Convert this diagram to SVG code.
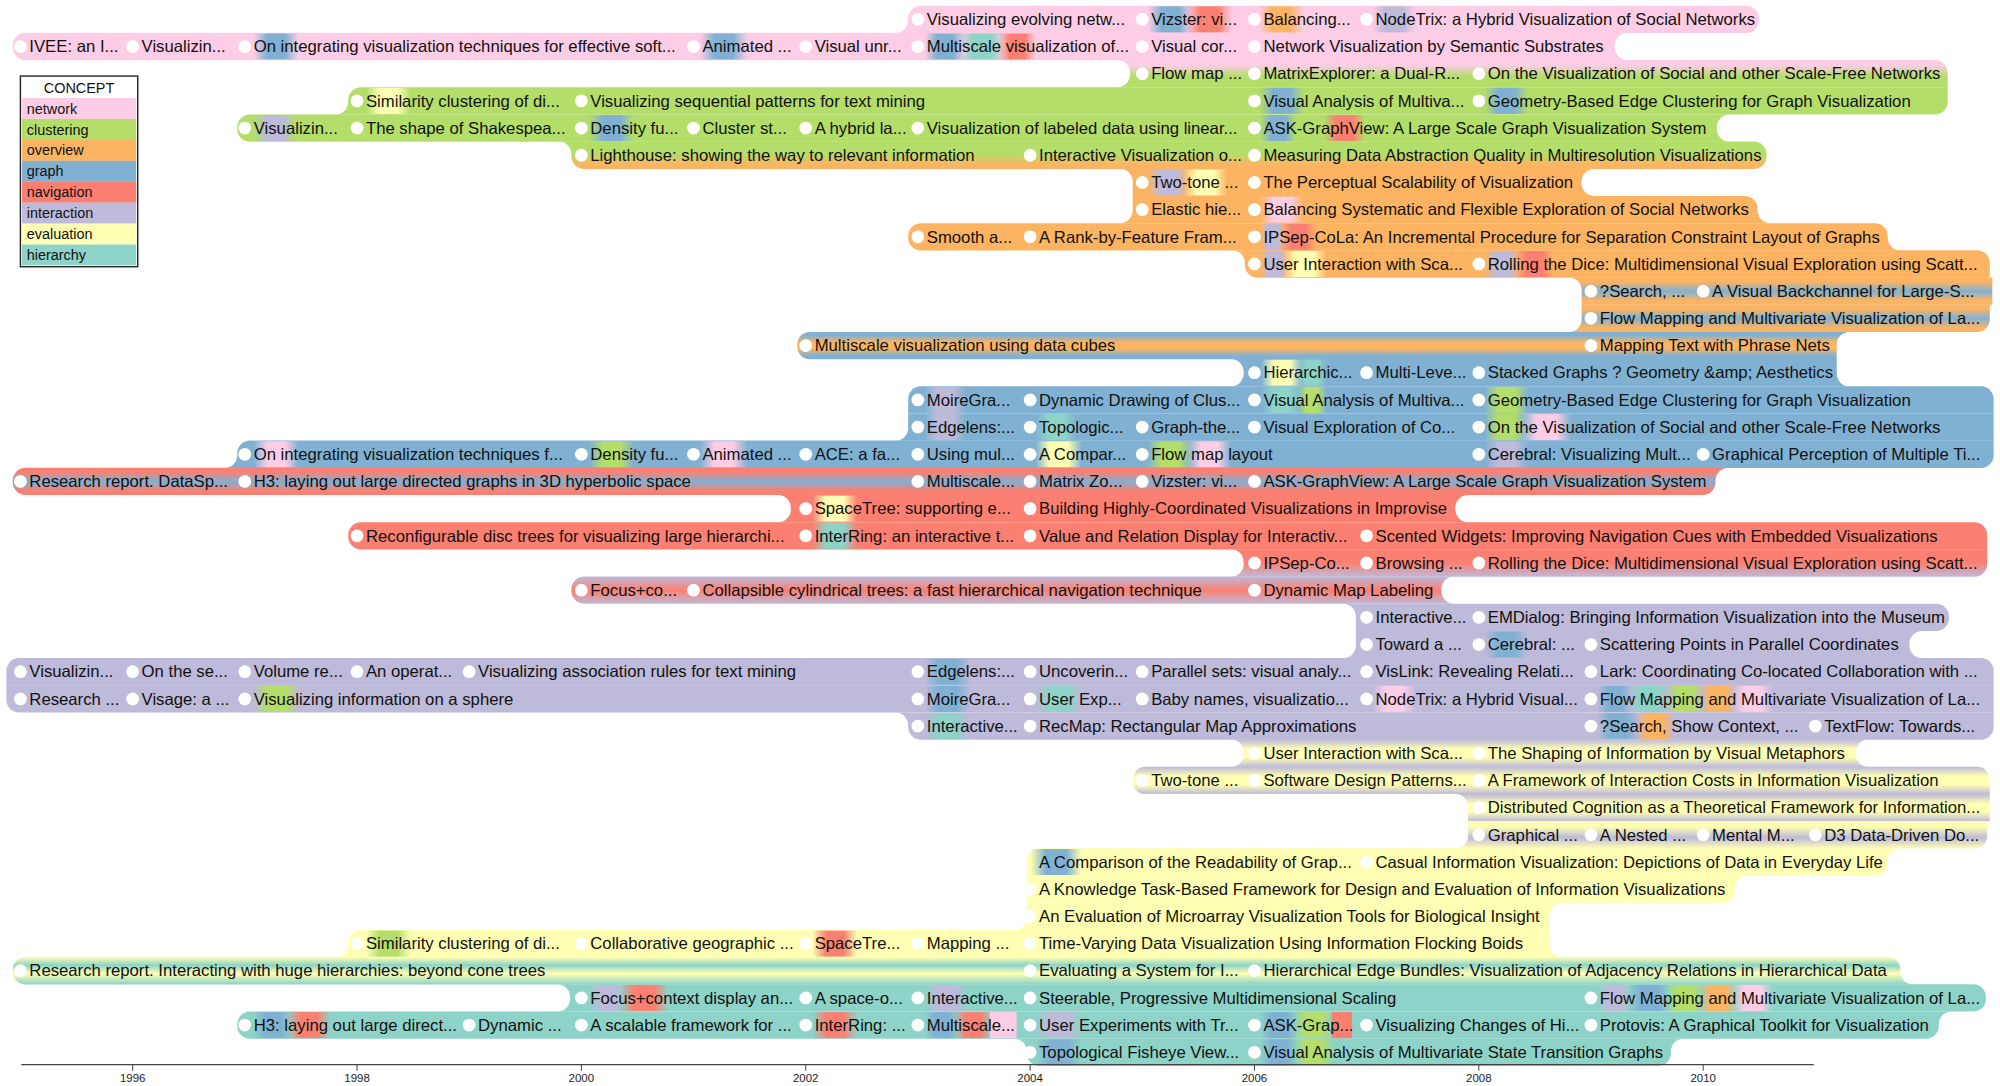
<svg xmlns="http://www.w3.org/2000/svg" width="2000" height="1086" viewBox="0 0 2000 1086">
<style>
.t{font-family:"Liberation Sans",Arial,Helvetica,sans-serif;font-size:13.1px;fill:#111}
.b{fill:#fff}
.lg{font-family:"Liberation Sans",Arial,Helvetica,sans-serif;font-size:11.3px;fill:#111}
.ax{font-family:"Liberation Sans",Arial,Helvetica,sans-serif;font-size:9px;fill:#222;text-anchor:middle}
.pk{fill:#fccde5}.gn{fill:#b3de69}.or{fill:#fdb462}.bl{fill:#80b1d3}.rd{fill:#fb8072}.pu{fill:#bebada}.ye{fill:#ffffb3}.te{fill:#8dd3c7}
</style>
<defs>
<linearGradient id="g2" x1="0" y1="0" x2="0" y2="1"><stop offset="0" stop-color="#fccde5"/><stop offset="0.2" stop-color="#fccde5"/><stop offset="0.6" stop-color="#b3de69"/><stop offset="1" stop-color="#b3de69"/></linearGradient>
<linearGradient id="g5" x1="0" y1="0" x2="0" y2="1"><stop offset="0" stop-color="#b3de69"/><stop offset="0.45" stop-color="#b3de69"/><stop offset="0.85" stop-color="#fdb462"/><stop offset="1" stop-color="#fdb462"/></linearGradient>
<linearGradient id="gobo" x1="0" y1="0" x2="0" y2="1"><stop offset="0" stop-color="#fdb462"/><stop offset="0.15" stop-color="#fdb462"/><stop offset="0.5" stop-color="#80b1d3"/><stop offset="0.85" stop-color="#fdb462"/><stop offset="1" stop-color="#fdb462"/></linearGradient>
<linearGradient id="gbob" x1="0" y1="0" x2="0" y2="1"><stop offset="0" stop-color="#80b1d3"/><stop offset="0.12" stop-color="#80b1d3"/><stop offset="0.4" stop-color="#fdb462"/><stop offset="0.6" stop-color="#fdb462"/><stop offset="0.88" stop-color="#80b1d3"/><stop offset="1" stop-color="#80b1d3"/></linearGradient>
<linearGradient id="grbr" x1="0" y1="0" x2="0" y2="1"><stop offset="0" stop-color="#fb8072"/><stop offset="0.15" stop-color="#fb8072"/><stop offset="0.5" stop-color="#80b1d3"/><stop offset="0.85" stop-color="#fb8072"/><stop offset="1" stop-color="#fb8072"/></linearGradient>
<linearGradient id="grp" x1="0" y1="0" x2="0" y2="1"><stop offset="0" stop-color="#fb8072"/><stop offset="0.5" stop-color="#fb8072"/><stop offset="1" stop-color="#bebada"/></linearGradient>
<linearGradient id="gprp" x1="0" y1="0" x2="0" y2="1"><stop offset="0" stop-color="#bebada"/><stop offset="0.5" stop-color="#fb8072"/><stop offset="1" stop-color="#bebada"/></linearGradient>
<linearGradient id="gpyp" x1="0" y1="0" x2="0" y2="1"><stop offset="0" stop-color="#bebada"/><stop offset="0.35" stop-color="#ffffb3"/><stop offset="0.65" stop-color="#ffffb3"/><stop offset="1" stop-color="#bebada"/></linearGradient>
<linearGradient id="gypy" x1="0" y1="0" x2="0" y2="1"><stop offset="0" stop-color="#ffffb3"/><stop offset="0.2" stop-color="#ffffb3"/><stop offset="0.6" stop-color="#bebada"/><stop offset="1" stop-color="#ffffb3"/></linearGradient>
<linearGradient id="gyt" x1="0" y1="0" x2="0" y2="1"><stop offset="0" stop-color="#ffffb3"/><stop offset="0.3" stop-color="#8dd3c7"/><stop offset="0.6" stop-color="#ffffb3"/><stop offset="1" stop-color="#8dd3c7"/></linearGradient>
<linearGradient id="hb"><stop offset="0" stop-color="#80b1d3" stop-opacity="0"/><stop offset="0.3" stop-color="#80b1d3"/><stop offset="0.7" stop-color="#80b1d3"/><stop offset="1" stop-color="#80b1d3" stop-opacity="0"/></linearGradient>
<linearGradient id="hr"><stop offset="0" stop-color="#fb8072" stop-opacity="0"/><stop offset="0.3" stop-color="#fb8072"/><stop offset="0.7" stop-color="#fb8072"/><stop offset="1" stop-color="#fb8072" stop-opacity="0"/></linearGradient>
<linearGradient id="hg"><stop offset="0" stop-color="#b3de69" stop-opacity="0"/><stop offset="0.3" stop-color="#b3de69"/><stop offset="0.7" stop-color="#b3de69"/><stop offset="1" stop-color="#b3de69" stop-opacity="0"/></linearGradient>
<linearGradient id="ho"><stop offset="0" stop-color="#fdb462" stop-opacity="0"/><stop offset="0.3" stop-color="#fdb462"/><stop offset="0.7" stop-color="#fdb462"/><stop offset="1" stop-color="#fdb462" stop-opacity="0"/></linearGradient>
<linearGradient id="hp"><stop offset="0" stop-color="#bebada" stop-opacity="0"/><stop offset="0.3" stop-color="#bebada"/><stop offset="0.7" stop-color="#bebada"/><stop offset="1" stop-color="#bebada" stop-opacity="0"/></linearGradient>
<linearGradient id="hk"><stop offset="0" stop-color="#fccde5" stop-opacity="0"/><stop offset="0.3" stop-color="#fccde5"/><stop offset="0.7" stop-color="#fccde5"/><stop offset="1" stop-color="#fccde5" stop-opacity="0"/></linearGradient>
<linearGradient id="hy"><stop offset="0" stop-color="#ffffb3" stop-opacity="0"/><stop offset="0.3" stop-color="#ffffb3"/><stop offset="0.7" stop-color="#ffffb3"/><stop offset="1" stop-color="#ffffb3" stop-opacity="0"/></linearGradient>
<linearGradient id="ht"><stop offset="0" stop-color="#8dd3c7" stop-opacity="0"/><stop offset="0.3" stop-color="#8dd3c7"/><stop offset="0.7" stop-color="#8dd3c7"/><stop offset="1" stop-color="#8dd3c7" stop-opacity="0"/></linearGradient>
</defs>
<rect width="2000" height="1086" fill="#fff"/>
<g transform="scale(1.27551,1.2762)">
<g id="flows">
<path class="pk" transform="translate(0,4.45)" d="M722,0 H1369 A10 10 0 0 1 1379,10 V11.4 A10 10 0 0 1 1369,21.4 H702 A10 10 0 0 0 712,11.4 V10 A10 10 0 0 1 722,0 Z"/>
<path class="pk" transform="translate(0,25.75)" d="M20,0 H1276 A10 10 0 0 0 1266,10 V11.4 A10 10 0 0 0 1276,21.4 H20 A10 10 0 0 1 10,11.4 V10 A10 10 0 0 1 20,0 Z"/>
<path fill="url(#g2)" transform="translate(0,47.05)" d="M876,0 H1517 A10 10 0 0 1 1527,10 V21.4 H876 A10 10 0 0 0 886,11.4 V10 A10 10 0 0 0 876,0 Z"/>
<path class="gn" transform="translate(0,68.35)" d="M283,0 H1527 V11.4 A10 10 0 0 1 1517,21.4 H263 A10 10 0 0 0 273,11.4 V10 A10 10 0 0 1 283,0 Z"/>
<path class="gn" transform="translate(0,89.65)" d="M196,0 H1356 A10 10 0 0 0 1346,10 V11.4 A10 10 0 0 0 1356,21.4 H196 A10 10 0 0 1 186,11.4 V10 A10 10 0 0 1 196,0 Z"/>
<path fill="url(#g5)" transform="translate(0,110.95)" d="M438,0 H1375 A10 10 0 0 1 1385,10 V11.4 A10 10 0 0 1 1375,21.4 H458 A10 10 0 0 1 448,11.4 V10 A10 10 0 0 0 438,0 Z"/>
<path class="or" transform="translate(0,132.25)" d="M878,0 H1250 A10 10 0 0 0 1240,10 V11.4 A10 10 0 0 0 1250,21.4 H888 V10 A10 10 0 0 0 878,0 Z"/>
<path class="or" transform="translate(0,153.55)" d="M888,0 H1368 A10 10 0 0 1 1378,10 V11.4 A10 10 0 0 0 1388,21.4 H878 A10 10 0 0 0 888,11.4 Z"/>
<path class="or" transform="translate(0,174.85)" d="M722,0 H1470 A10 10 0 0 1 1480,10 V11.4 A10 10 0 0 0 1490,21.4 H722 A10 10 0 0 1 712,11.4 V10 A10 10 0 0 1 722,0 Z"/>
<path class="or" transform="translate(0,196.15)" d="M966,0 H1550 A10 10 0 0 1 1560,10 V21.4 H986 A10 10 0 0 1 976,11.4 V10 A10 10 0 0 0 966,0 Z"/>
<path fill="url(#gobo)" transform="translate(0,217.45)" d="M1230,0 H1562 V21.4 H1240 V10 A10 10 0 0 0 1230,0 Z"/>
<path fill="url(#gobo)" transform="translate(0,238.75)" d="M1240,0 H1560 V11.4 A10 10 0 0 1 1550,21.4 H1230 A10 10 0 0 0 1240,11.4 Z"/>
<path fill="url(#gbob)" transform="translate(0,260.05)" d="M635,0 H1450 A10 10 0 0 0 1440,10 V21.4 H635 A10 10 0 0 1 625,11.4 V10 A10 10 0 0 1 635,0 Z"/>
<path class="bl" transform="translate(0,281.35)" d="M965,0 H1440 V11.4 A10 10 0 0 0 1450,21.4 H965 A10 10 0 0 0 975,11.4 V10 A10 10 0 0 0 965,0 Z"/>
<path class="bl" transform="translate(0,302.65)" d="M722,0 H1553 A10 10 0 0 1 1563,10 V21.4 H712 V10 A10 10 0 0 1 722,0 Z"/>
<path class="bl" transform="translate(0,323.95)" d="M712,0 H1563 V21.4 H702 A10 10 0 0 0 712,11.4 Z"/>
<path class="bl" transform="translate(0,345.25)" d="M196,0 H1563 V11.4 A10 10 0 0 1 1553,21.4 H176 A10 10 0 0 0 186,11.4 V10 A10 10 0 0 1 196,0 Z"/>
<path fill="url(#grbr)" transform="translate(0,366.55)" d="M20,0 H1355 A10 10 0 0 0 1345,10 V11.4 A10 10 0 0 1 1335,21.4 H20 A10 10 0 0 1 10,11.4 V10 A10 10 0 0 1 20,0 Z"/>
<path class="rd" transform="translate(0,387.85)" d="M610,0 H1151 A10 10 0 0 0 1141,10 V11.4 A10 10 0 0 0 1151,21.4 H610 A10 10 0 0 0 620,11.4 V10 A10 10 0 0 0 610,0 Z"/>
<path class="rd" transform="translate(0,409.15)" d="M283,0 H1548 A10 10 0 0 1 1558,10 V21.4 H283 A10 10 0 0 1 273,11.4 V10 A10 10 0 0 1 283,0 Z"/>
<path fill="url(#grp)" transform="translate(0,430.45)" d="M965,0 H1558 V11.4 A10 10 0 0 1 1548,21.4 H965 A10 10 0 0 0 975,11.4 V10 A10 10 0 0 0 965,0 Z"/>
<path fill="url(#gprp)" transform="translate(0,451.75)" d="M458,0 H1140 A10 10 0 0 0 1130,10 V11.4 A10 10 0 0 0 1140,21.4 H458 A10 10 0 0 1 448,11.4 V10 A10 10 0 0 1 458,0 Z"/>
<path class="pu" transform="translate(0,473.05)" d="M1053,0 H1518 A10 10 0 0 1 1528,10 V11.4 A10 10 0 0 1 1518,21.4 H1063 V10 A10 10 0 0 0 1053,0 Z"/>
<path class="pu" transform="translate(0,494.35)" d="M1063,0 H1507 A10 10 0 0 0 1497,10 V11.4 A10 10 0 0 0 1507,21.4 H1053 A10 10 0 0 0 1063,11.4 Z"/>
<path class="pu" transform="translate(0,515.65)" d="M15,0 H1553 A10 10 0 0 1 1563,10 V21.4 H5 V10 A10 10 0 0 1 15,0 Z"/>
<path class="pu" transform="translate(0,536.95)" d="M5,0 H1563 V21.4 H15 A10 10 0 0 1 5,11.4 Z"/>
<path class="pu" transform="translate(0,558.25)" d="M702,0 H1563 V11.4 A10 10 0 0 1 1553,21.4 H722 A10 10 0 0 1 712,11.4 V10 A10 10 0 0 0 702,0 Z"/>
<path fill="url(#gpyp)" transform="translate(0,579.55)" d="M965,0 H1465 A10 10 0 0 0 1455,10 V11.4 A10 10 0 0 0 1465,21.4 H965 A10 10 0 0 0 975,11.4 V10 A10 10 0 0 0 965,0 Z"/>
<path fill="url(#gpyp)" transform="translate(0,600.85)" d="M898,0 H1550 A10 10 0 0 1 1560,10 V21.4 H898 A10 10 0 0 1 888,11.4 V10 A10 10 0 0 1 898,0 Z"/>
<path fill="url(#gpyp)" transform="translate(0,622.15)" d="M1141,0 H1560 V21.4 H1151 V10 A10 10 0 0 0 1141,0 Z"/>
<path fill="url(#gypy)" transform="translate(0,643.45)" d="M1151,0 H1558 V11.4 A10 10 0 0 1 1548,21.4 H1141 A10 10 0 0 0 1151,11.4 Z"/>
<path class="ye" transform="translate(0,664.75)" d="M815,0 H1490 A10 10 0 0 0 1480,10 V11.4 A10 10 0 0 1 1470,21.4 H805 V10 A10 10 0 0 1 815,0 Z"/>
<path class="ye" transform="translate(0,686.05)" d="M805,0 H1370 A10 10 0 0 0 1360,10 V11.4 A10 10 0 0 1 1350,21.4 H805 Z"/>
<path class="ye" transform="translate(0,707.35)" d="M805,0 H1225 A10 10 0 0 0 1215,10 V21.4 H795 A10 10 0 0 0 805,11.4 Z"/>
<path class="ye" transform="translate(0,728.65)" d="M283,0 H1215 V11.4 A10 10 0 0 0 1225,21.4 H263 A10 10 0 0 0 273,11.4 V10 A10 10 0 0 1 283,0 Z"/>
<path fill="url(#gyt)" transform="translate(0,749.95)" d="M20,0 H1480 A10 10 0 0 1 1490,10 V11.4 A10 10 0 0 0 1500,21.4 H20 A10 10 0 0 1 10,11.4 V10 A10 10 0 0 1 20,0 Z"/>
<path class="te" transform="translate(0,771.25)" d="M437,0 H1547 A10 10 0 0 1 1557,10 V11.4 A10 10 0 0 1 1547,21.4 H437 A10 10 0 0 0 447,11.4 V10 A10 10 0 0 0 437,0 Z"/>
<path class="te" transform="translate(0,792.55)" d="M196,0 H1530 A10 10 0 0 0 1520,10 V11.4 A10 10 0 0 1 1510,21.4 H196 A10 10 0 0 1 186,11.4 V10 A10 10 0 0 1 196,0 Z"/>
<path class="te" transform="translate(0,813.85)" d="M795,0 H1320 A10 10 0 0 0 1310,10 V11.4 A10 10 0 0 1 1300,21.4 H815 A10 10 0 0 1 805,11.4 V10 A10 10 0 0 0 795,0 Z"/>
</g>

<g id="row-00" transform="translate(0,4.45)">
<rect fill="url(#hb)" x="900" y="0.5" width="35" height="20.4"/><rect fill="url(#hr)" x="930" y="0.5" width="36" height="20.4"/><rect fill="url(#ho)" x="987" y="0.5" width="35" height="20.4"/><rect fill="url(#hp)" x="1076" y="0.5" width="34" height="20.4"/>
<circle class="b" cx="719.6" cy="10.7" r="5"/><text class="t" x="726.6" y="15.2">Visualizing evolving netw...</text>
<circle class="b" cx="895.5" cy="10.7" r="5"/><text class="t" x="902.5" y="15.2">Vizster: vi...</text>
<circle class="b" cx="983.5" cy="10.7" r="5"/><text class="t" x="990.5" y="15.2">Balancing...</text>
<circle class="b" cx="1071.4" cy="10.7" r="5"/><text class="t" x="1078.4" y="15.2">NodeTrix: a Hybrid Visualization of Social Networks</text>
</g>
<g id="row-01" transform="translate(0,25.75)">
<rect fill="url(#hb)" x="199" y="0.5" width="35" height="20.4"/><rect fill="url(#hb)" x="549" y="0.5" width="37" height="20.4"/><rect fill="url(#hb)" x="725" y="0.5" width="32" height="20.4"/><rect fill="url(#ht)" x="752" y="0.5" width="36" height="20.4"/><rect fill="url(#hr)" x="783" y="0.5" width="29" height="20.4"/>
<circle class="b" cx="16" cy="10.7" r="5"/><text class="t" x="23" y="15.2">IVEE: an I...</text>
<circle class="b" cx="104" cy="10.7" r="5"/><text class="t" x="111" y="15.2">Visualizin...</text>
<circle class="b" cx="191.9" cy="10.7" r="5"/><text class="t" x="198.9" y="15.2">On integrating visualization techniques for effective soft...</text>
<circle class="b" cx="543.7" cy="10.7" r="5"/><text class="t" x="550.7" y="15.2">Animated ...</text>
<circle class="b" cx="631.7" cy="10.7" r="5"/><text class="t" x="638.7" y="15.2">Visual unr...</text>
<circle class="b" cx="719.6" cy="10.7" r="5"/><text class="t" x="726.6" y="15.2">Multiscale visualization of...</text>
<circle class="b" cx="895.5" cy="10.7" r="5"/><text class="t" x="902.5" y="15.2">Visual cor...</text>
<circle class="b" cx="983.5" cy="10.7" r="5"/><text class="t" x="990.5" y="15.2">Network Visualization by Semantic Substrates</text>
</g>
<g id="row-02" transform="translate(0,47.05)">
<circle class="b" cx="895.5" cy="10.7" r="5"/><text class="t" x="902.5" y="15.2">Flow map ...</text>
<circle class="b" cx="983.5" cy="10.7" r="5"/><text class="t" x="990.5" y="15.2">MatrixExplorer: a Dual-R...</text>
<circle class="b" cx="1159.4" cy="10.7" r="5"/><text class="t" x="1166.4" y="15.2">On the Visualization of Social and other Scale-Free Networks</text>
</g>
<g id="row-03" transform="translate(0,68.35)">
<rect fill="url(#hy)" x="287" y="0.5" width="35" height="20.4"/><rect fill="url(#hb)" x="988" y="0.5" width="34" height="20.4"/><rect fill="url(#hb)" x="1164" y="0.5" width="34" height="20.4"/>
<circle class="b" cx="279.9" cy="10.7" r="5"/><text class="t" x="286.9" y="15.2">Similarity clustering of di...</text>
<circle class="b" cx="455.8" cy="10.7" r="5"/><text class="t" x="462.8" y="15.2">Visualizing sequential patterns for text mining</text>
<circle class="b" cx="983.5" cy="10.7" r="5"/><text class="t" x="990.5" y="15.2">Visual Analysis of Multiva...</text>
<circle class="b" cx="1159.4" cy="10.7" r="5"/><text class="t" x="1166.4" y="15.2">Geometry-Based Edge Clustering for Graph Visualization</text>
</g>
<g id="row-04" transform="translate(0,89.65)">
<rect fill="url(#hp)" x="199" y="0.5" width="33" height="20.4"/><rect fill="url(#hb)" x="462" y="0.5" width="35" height="20.4"/><rect fill="url(#hb)" x="988" y="0.5" width="28" height="20.4"/><rect fill="url(#hg)" x="1012" y="0.5" width="30" height="20.4"/><rect fill="url(#hr)" x="1038" y="0.5" width="32" height="20.4"/>
<circle class="b" cx="191.9" cy="10.7" r="5"/><text class="t" x="198.9" y="15.2">Visualizin...</text>
<circle class="b" cx="279.9" cy="10.7" r="5"/><text class="t" x="286.9" y="15.2">The shape of Shakespea...</text>
<circle class="b" cx="455.8" cy="10.7" r="5"/><text class="t" x="462.8" y="15.2">Density fu...</text>
<circle class="b" cx="543.7" cy="10.7" r="5"/><text class="t" x="550.7" y="15.2">Cluster st...</text>
<circle class="b" cx="631.7" cy="10.7" r="5"/><text class="t" x="638.7" y="15.2">A hybrid la...</text>
<circle class="b" cx="719.6" cy="10.7" r="5"/><text class="t" x="726.6" y="15.2">Visualization of labeled data using linear...</text>
<circle class="b" cx="983.5" cy="10.7" r="5"/><text class="t" x="990.5" y="15.2">ASK-GraphView: A Large Scale Graph Visualization System</text>
</g>
<g id="row-05" transform="translate(0,110.95)">
<circle class="b" cx="455.8" cy="10.7" r="5"/><text class="t" x="462.8" y="15.2">Lighthouse: showing the way to relevant information</text>
<circle class="b" cx="807.6" cy="10.7" r="5"/><text class="t" x="814.6" y="15.2">Interactive Visualization o...</text>
<circle class="b" cx="983.5" cy="10.7" r="5"/><text class="t" x="990.5" y="15.2">Measuring Data Abstraction Quality in Multiresolution Visualizations</text>
</g>
<g id="row-06" transform="translate(0,132.25)">
<rect fill="url(#hp)" x="900" y="0.5" width="32" height="20.4"/><rect fill="url(#hy)" x="928" y="0.5" width="34" height="20.4"/>
<circle class="b" cx="895.5" cy="10.7" r="5"/><text class="t" x="902.5" y="15.2">Two-tone ...</text>
<circle class="b" cx="983.5" cy="10.7" r="5"/><text class="t" x="990.5" y="15.2">The Perceptual Scalability of Visualization</text>
</g>
<g id="row-07" transform="translate(0,153.55)">
<rect fill="url(#hk)" x="988" y="0.5" width="34" height="20.4"/>
<circle class="b" cx="895.5" cy="10.7" r="5"/><text class="t" x="902.5" y="15.2">Elastic hie...</text>
<circle class="b" cx="983.5" cy="10.7" r="5"/><text class="t" x="990.5" y="15.2">Balancing Systematic and Flexible Exploration of Social Networks</text>
</g>
<g id="row-08" transform="translate(0,174.85)">
<rect fill="url(#hp)" x="988" y="0.5" width="20" height="20.4"/><rect fill="url(#hr)" x="1004" y="0.5" width="28" height="20.4"/>
<circle class="b" cx="719.6" cy="10.7" r="5"/><text class="t" x="726.6" y="15.2">Smooth a...</text>
<circle class="b" cx="807.6" cy="10.7" r="5"/><text class="t" x="814.6" y="15.2">A Rank-by-Feature Fram...</text>
<circle class="b" cx="983.5" cy="10.7" r="5"/><text class="t" x="990.5" y="15.2">IPSep-CoLa: An Incremental Procedure for Separation Constraint Layout of Graphs</text>
</g>
<g id="row-09" transform="translate(0,196.15)">
<rect fill="url(#hp)" x="988" y="0.5" width="22" height="20.4"/><rect fill="url(#hy)" x="1006" y="0.5" width="34" height="20.4"/><rect fill="url(#hp)" x="1164" y="0.5" width="28" height="20.4"/><rect fill="url(#hr)" x="1188" y="0.5" width="30" height="20.4"/>
<circle class="b" cx="983.5" cy="10.7" r="5"/><text class="t" x="990.5" y="15.2">User Interaction with Sca...</text>
<circle class="b" cx="1159.4" cy="10.7" r="5"/><text class="t" x="1166.4" y="15.2">Rolling the Dice: Multidimensional Visual Exploration using Scatt...</text>
</g>
<g id="row-10" transform="translate(0,217.45)">
<circle class="b" cx="1247.3" cy="10.7" r="5"/><text class="t" x="1254.3" y="15.2">?Search, ...</text>
<circle class="b" cx="1335.3" cy="10.7" r="5"/><text class="t" x="1342.3" y="15.2">A Visual Backchannel for Large-S...</text>
</g>
<g id="row-11" transform="translate(0,238.75)">
<circle class="b" cx="1247.3" cy="10.7" r="5"/><text class="t" x="1254.3" y="15.2">Flow Mapping and Multivariate Visualization of La...</text>
</g>
<g id="row-12" transform="translate(0,260.05)">
<circle class="b" cx="631.7" cy="10.7" r="5"/><text class="t" x="638.7" y="15.2">Multiscale visualization using data cubes</text>
<circle class="b" cx="1247.3" cy="10.7" r="5"/><text class="t" x="1254.3" y="15.2">Mapping Text with Phrase Nets</text>
</g>
<g id="row-13" transform="translate(0,281.35)">
<rect fill="url(#hy)" x="989" y="0.5" width="32" height="20.4"/><rect fill="url(#ht)" x="1017" y="0.5" width="23" height="20.4"/>
<circle class="b" cx="983.5" cy="10.7" r="5"/><text class="t" x="990.5" y="15.2">Hierarchic...</text>
<circle class="b" cx="1071.4" cy="10.7" r="5"/><text class="t" x="1078.4" y="15.2">Multi-Leve...</text>
<circle class="b" cx="1159.4" cy="10.7" r="5"/><text class="t" x="1166.4" y="15.2">Stacked Graphs ? Geometry &amp;amp; Aesthetics</text>
</g>
<g id="row-14" transform="translate(0,302.65)">
<rect fill="url(#hp)" x="725" y="0.5" width="32" height="20.4"/><rect fill="url(#ht)" x="989" y="0.5" width="32" height="20.4"/><rect fill="url(#hg)" x="1017" y="0.5" width="23" height="20.4"/><rect fill="url(#hg)" x="1164" y="0.5" width="34" height="20.4"/>
<circle class="b" cx="719.6" cy="10.7" r="5"/><text class="t" x="726.6" y="15.2">MoireGra...</text>
<circle class="b" cx="807.6" cy="10.7" r="5"/><text class="t" x="814.6" y="15.2">Dynamic Drawing of Clus...</text>
<circle class="b" cx="983.5" cy="10.7" r="5"/><text class="t" x="990.5" y="15.2">Visual Analysis of Multiva...</text>
<circle class="b" cx="1159.4" cy="10.7" r="5"/><text class="t" x="1166.4" y="15.2">Geometry-Based Edge Clustering for Graph Visualization</text>
</g>
<g id="row-15" transform="translate(0,323.95)">
<rect fill="url(#hp)" x="725" y="0.5" width="32" height="20.4"/><rect fill="url(#ht)" x="812" y="0.5" width="32" height="20.4"/><rect fill="url(#hg)" x="1164" y="0.5" width="33" height="20.4"/><rect fill="url(#hk)" x="1193" y="0.5" width="39" height="20.4"/>
<circle class="b" cx="719.6" cy="10.7" r="5"/><text class="t" x="726.6" y="15.2">Edgelens:...</text>
<circle class="b" cx="807.6" cy="10.7" r="5"/><text class="t" x="814.6" y="15.2">Topologic...</text>
<circle class="b" cx="895.5" cy="10.7" r="5"/><text class="t" x="902.5" y="15.2">Graph-the...</text>
<circle class="b" cx="983.5" cy="10.7" r="5"/><text class="t" x="990.5" y="15.2">Visual Exploration of Co...</text>
<circle class="b" cx="1159.4" cy="10.7" r="5"/><text class="t" x="1166.4" y="15.2">On the Visualization of Social and other Scale-Free Networks</text>
</g>
<g id="row-16" transform="translate(0,345.25)">
<rect fill="url(#hk)" x="199" y="0.5" width="35" height="20.4"/><rect fill="url(#hg)" x="462" y="0.5" width="35" height="20.4"/><rect fill="url(#hk)" x="549" y="0.5" width="37" height="20.4"/><rect fill="url(#hy)" x="812" y="0.5" width="36" height="20.4"/><rect fill="url(#hg)" x="900" y="0.5" width="35" height="20.4"/><rect fill="url(#hk)" x="931" y="0.5" width="34" height="20.4"/><rect fill="url(#hp)" x="1164" y="0.5" width="34" height="20.4"/>
<circle class="b" cx="191.9" cy="10.7" r="5"/><text class="t" x="198.9" y="15.2">On integrating visualization techniques f...</text>
<circle class="b" cx="455.8" cy="10.7" r="5"/><text class="t" x="462.8" y="15.2">Density fu...</text>
<circle class="b" cx="543.7" cy="10.7" r="5"/><text class="t" x="550.7" y="15.2">Animated ...</text>
<circle class="b" cx="631.7" cy="10.7" r="5"/><text class="t" x="638.7" y="15.2">ACE: a fa...</text>
<circle class="b" cx="719.6" cy="10.7" r="5"/><text class="t" x="726.6" y="15.2">Using mul...</text>
<circle class="b" cx="807.6" cy="10.7" r="5"/><text class="t" x="814.6" y="15.2">A Compar...</text>
<circle class="b" cx="895.5" cy="10.7" r="5"/><text class="t" x="902.5" y="15.2">Flow map layout</text>
<circle class="b" cx="1159.4" cy="10.7" r="5"/><text class="t" x="1166.4" y="15.2">Cerebral: Visualizing Mult...</text>
<circle class="b" cx="1335.3" cy="10.7" r="5"/><text class="t" x="1342.3" y="15.2">Graphical Perception of Multiple Ti...</text>
</g>
<g id="row-17" transform="translate(0,366.55)">
<circle class="b" cx="16" cy="10.7" r="5"/><text class="t" x="23" y="15.2">Research report. DataSp...</text>
<circle class="b" cx="191.9" cy="10.7" r="5"/><text class="t" x="198.9" y="15.2">H3: laying out large directed graphs in 3D hyperbolic space</text>
<circle class="b" cx="719.6" cy="10.7" r="5"/><text class="t" x="726.6" y="15.2">Multiscale...</text>
<circle class="b" cx="807.6" cy="10.7" r="5"/><text class="t" x="814.6" y="15.2">Matrix Zo...</text>
<circle class="b" cx="895.5" cy="10.7" r="5"/><text class="t" x="902.5" y="15.2">Vizster: vi...</text>
<circle class="b" cx="983.5" cy="10.7" r="5"/><text class="t" x="990.5" y="15.2">ASK-GraphView: A Large Scale Graph Visualization System</text>
</g>
<g id="row-18" transform="translate(0,387.85)">
<rect fill="url(#hy)" x="637" y="0.5" width="35" height="20.4"/>
<circle class="b" cx="631.7" cy="10.7" r="5"/><text class="t" x="638.7" y="15.2">SpaceTree: supporting e...</text>
<circle class="b" cx="807.6" cy="10.7" r="5"/><text class="t" x="814.6" y="15.2">Building Highly-Coordinated Visualizations in Improvise</text>
</g>
<g id="row-19" transform="translate(0,409.15)">
<rect fill="url(#ht)" x="637" y="0.5" width="35" height="20.4"/>
<circle class="b" cx="279.9" cy="10.7" r="5"/><text class="t" x="286.9" y="15.2">Reconfigurable disc trees for visualizing large hierarchi...</text>
<circle class="b" cx="631.7" cy="10.7" r="5"/><text class="t" x="638.7" y="15.2">InterRing: an interactive t...</text>
<circle class="b" cx="807.6" cy="10.7" r="5"/><text class="t" x="814.6" y="15.2">Value and Relation Display for Interactiv...</text>
<circle class="b" cx="1071.4" cy="10.7" r="5"/><text class="t" x="1078.4" y="15.2">Scented Widgets: Improving Navigation Cues with Embedded Visualizations</text>
</g>
<g id="row-20" transform="translate(0,430.45)">
<circle class="b" cx="983.5" cy="10.7" r="5"/><text class="t" x="990.5" y="15.2">IPSep-Co...</text>
<circle class="b" cx="1071.4" cy="10.7" r="5"/><text class="t" x="1078.4" y="15.2">Browsing ...</text>
<circle class="b" cx="1159.4" cy="10.7" r="5"/><text class="t" x="1166.4" y="15.2">Rolling the Dice: Multidimensional Visual Exploration using Scatt...</text>
</g>
<g id="row-21" transform="translate(0,451.75)">
<circle class="b" cx="455.8" cy="10.7" r="5"/><text class="t" x="462.8" y="15.2">Focus+co...</text>
<circle class="b" cx="543.7" cy="10.7" r="5"/><text class="t" x="550.7" y="15.2">Collapsible cylindrical trees: a fast hierarchical navigation technique</text>
<circle class="b" cx="983.5" cy="10.7" r="5"/><text class="t" x="990.5" y="15.2">Dynamic Map Labeling</text>
</g>
<g id="row-22" transform="translate(0,473.05)">
<circle class="b" cx="1071.4" cy="10.7" r="5"/><text class="t" x="1078.4" y="15.2">Interactive...</text>
<circle class="b" cx="1159.4" cy="10.7" r="5"/><text class="t" x="1166.4" y="15.2">EMDialog: Bringing Information Visualization into the Museum</text>
</g>
<g id="row-23" transform="translate(0,494.35)">
<rect fill="url(#hb)" x="1164" y="0.5" width="34" height="20.4"/>
<circle class="b" cx="1071.4" cy="10.7" r="5"/><text class="t" x="1078.4" y="15.2">Toward a ...</text>
<circle class="b" cx="1159.4" cy="10.7" r="5"/><text class="t" x="1166.4" y="15.2">Cerebral: ...</text>
<circle class="b" cx="1247.3" cy="10.7" r="5"/><text class="t" x="1254.3" y="15.2">Scattering Points in Parallel Coordinates</text>
</g>
<g id="row-24" transform="translate(0,515.65)">
<rect fill="url(#hb)" x="725" y="0.5" width="36" height="20.4"/>
<circle class="b" cx="16" cy="10.7" r="5"/><text class="t" x="23" y="15.2">Visualizin...</text>
<circle class="b" cx="104" cy="10.7" r="5"/><text class="t" x="111" y="15.2">On the se...</text>
<circle class="b" cx="191.9" cy="10.7" r="5"/><text class="t" x="198.9" y="15.2">Volume re...</text>
<circle class="b" cx="279.9" cy="10.7" r="5"/><text class="t" x="286.9" y="15.2">An operat...</text>
<circle class="b" cx="367.8" cy="10.7" r="5"/><text class="t" x="374.8" y="15.2">Visualizing association rules for text mining</text>
<circle class="b" cx="719.6" cy="10.7" r="5"/><text class="t" x="726.6" y="15.2">Edgelens:...</text>
<circle class="b" cx="807.6" cy="10.7" r="5"/><text class="t" x="814.6" y="15.2">Uncoverin...</text>
<circle class="b" cx="895.5" cy="10.7" r="5"/><text class="t" x="902.5" y="15.2">Parallel sets: visual analy...</text>
<circle class="b" cx="1071.4" cy="10.7" r="5"/><text class="t" x="1078.4" y="15.2">VisLink: Revealing Relati...</text>
<circle class="b" cx="1247.3" cy="10.7" r="5"/><text class="t" x="1254.3" y="15.2">Lark: Coordinating Co-located Collaboration with ...</text>
</g>
<g id="row-25" transform="translate(0,536.95)">
<rect fill="url(#hg)" x="199" y="0.5" width="36" height="20.4"/><rect fill="url(#hb)" x="725" y="0.5" width="36" height="20.4"/><rect fill="url(#ht)" x="812" y="0.5" width="36" height="20.4"/><rect fill="url(#hk)" x="1076" y="0.5" width="34" height="20.4"/><rect fill="url(#hb)" x="1252" y="0.5" width="28" height="20.4"/><rect fill="url(#ht)" x="1276" y="0.5" width="34" height="20.4"/><rect fill="url(#hg)" x="1306" y="0.5" width="30" height="20.4"/><rect fill="url(#ho)" x="1332" y="0.5" width="30" height="20.4"/><rect fill="url(#hk)" x="1358" y="0.5" width="32" height="20.4"/>
<circle class="b" cx="16" cy="10.7" r="5"/><text class="t" x="23" y="15.2">Research ...</text>
<circle class="b" cx="104" cy="10.7" r="5"/><text class="t" x="111" y="15.2">Visage: a ...</text>
<circle class="b" cx="191.9" cy="10.7" r="5"/><text class="t" x="198.9" y="15.2">Visualizing information on a sphere</text>
<circle class="b" cx="719.6" cy="10.7" r="5"/><text class="t" x="726.6" y="15.2">MoireGra...</text>
<circle class="b" cx="807.6" cy="10.7" r="5"/><text class="t" x="814.6" y="15.2">User Exp...</text>
<circle class="b" cx="895.5" cy="10.7" r="5"/><text class="t" x="902.5" y="15.2">Baby names, visualizatio...</text>
<circle class="b" cx="1071.4" cy="10.7" r="5"/><text class="t" x="1078.4" y="15.2">NodeTrix: a Hybrid Visual...</text>
<circle class="b" cx="1247.3" cy="10.7" r="5"/><text class="t" x="1254.3" y="15.2">Flow Mapping and Multivariate Visualization of La...</text>
</g>
<g id="row-26" transform="translate(0,558.25)">
<rect fill="url(#ht)" x="725" y="0.5" width="35" height="20.4"/><rect fill="url(#hb)" x="1252" y="0.5" width="34" height="20.4"/><rect fill="url(#ho)" x="1282" y="0.5" width="31" height="20.4"/>
<circle class="b" cx="719.6" cy="10.7" r="5"/><text class="t" x="726.6" y="15.2">Interactive...</text>
<circle class="b" cx="807.6" cy="10.7" r="5"/><text class="t" x="814.6" y="15.2">RecMap: Rectangular Map Approximations</text>
<circle class="b" cx="1247.3" cy="10.7" r="5"/><text class="t" x="1254.3" y="15.2">?Search, Show Context, ...</text>
<circle class="b" cx="1423.2" cy="10.7" r="5"/><text class="t" x="1430.2" y="15.2">TextFlow: Towards...</text>
</g>
<g id="row-27" transform="translate(0,579.55)">
<circle class="b" cx="983.5" cy="10.7" r="5"/><text class="t" x="990.5" y="15.2">User Interaction with Sca...</text>
<circle class="b" cx="1159.4" cy="10.7" r="5"/><text class="t" x="1166.4" y="15.2">The Shaping of Information by Visual Metaphors</text>
</g>
<g id="row-28" transform="translate(0,600.85)">
<circle class="b" cx="895.5" cy="10.7" r="5"/><text class="t" x="902.5" y="15.2">Two-tone ...</text>
<circle class="b" cx="983.5" cy="10.7" r="5"/><text class="t" x="990.5" y="15.2">Software Design Patterns...</text>
<circle class="b" cx="1159.4" cy="10.7" r="5"/><text class="t" x="1166.4" y="15.2">A Framework of Interaction Costs in Information Visualization</text>
</g>
<g id="row-29" transform="translate(0,622.15)">
<circle class="b" cx="1159.4" cy="10.7" r="5"/><text class="t" x="1166.4" y="15.2">Distributed Cognition as a Theoretical Framework for Information...</text>
</g>
<g id="row-30" transform="translate(0,643.45)">
<circle class="b" cx="1159.4" cy="10.7" r="5"/><text class="t" x="1166.4" y="15.2">Graphical ...</text>
<circle class="b" cx="1247.3" cy="10.7" r="5"/><text class="t" x="1254.3" y="15.2">A Nested ...</text>
<circle class="b" cx="1335.3" cy="10.7" r="5"/><text class="t" x="1342.3" y="15.2">Mental M...</text>
<circle class="b" cx="1423.2" cy="10.7" r="5"/><text class="t" x="1430.2" y="15.2">D3 Data-Driven Do...</text>
</g>
<g id="row-31" transform="translate(0,664.75)">
<rect fill="url(#hb)" x="808" y="0.5" width="40" height="20.4"/>
<text class="t" x="814.6" y="15.2">A Comparison of the Readability of Grap...</text>
<circle class="b" cx="1071.4" cy="10.7" r="5"/><text class="t" x="1078.4" y="15.2">Casual Information Visualization: Depictions of Data in Everyday Life</text>
</g>
<g id="row-32" transform="translate(0,686.05)">
<circle class="b" cx="807.6" cy="10.7" r="5"/><text class="t" x="814.6" y="15.2">A Knowledge Task-Based Framework for Design and Evaluation of Information Visualizations</text>
</g>
<g id="row-33" transform="translate(0,707.35)">
<circle class="b" cx="807.6" cy="10.7" r="5"/><text class="t" x="814.6" y="15.2">An Evaluation of Microarray Visualization Tools for Biological Insight</text>
</g>
<g id="row-34" transform="translate(0,728.65)">
<rect fill="url(#hg)" x="287" y="0.5" width="35" height="20.4"/><rect fill="url(#hr)" x="637" y="0.5" width="35" height="20.4"/>
<circle class="b" cx="279.9" cy="10.7" r="5"/><text class="t" x="286.9" y="15.2">Similarity clustering of di...</text>
<circle class="b" cx="455.8" cy="10.7" r="5"/><text class="t" x="462.8" y="15.2">Collaborative geographic ...</text>
<circle class="b" cx="631.7" cy="10.7" r="5"/><text class="t" x="638.7" y="15.2">SpaceTre...</text>
<circle class="b" cx="719.6" cy="10.7" r="5"/><text class="t" x="726.6" y="15.2">Mapping ...</text>
<circle class="b" cx="807.6" cy="10.7" r="5"/><text class="t" x="814.6" y="15.2">Time-Varying Data Visualization Using Information Flocking Boids</text>
</g>
<g id="row-35" transform="translate(0,749.95)">
<circle class="b" cx="16" cy="10.7" r="5"/><text class="t" x="23" y="15.2">Research report. Interacting with huge hierarchies: beyond cone trees</text>
<circle class="b" cx="807.6" cy="10.7" r="5"/><text class="t" x="814.6" y="15.2">Evaluating a System for I...</text>
<circle class="b" cx="983.5" cy="10.7" r="5"/><text class="t" x="990.5" y="15.2">Hierarchical Edge Bundles: Visualization of Adjacency Relations in Hierarchical Data</text>
</g>
<g id="row-36" transform="translate(0,771.25)">
<rect fill="url(#hp)" x="462" y="0.5" width="28" height="20.4"/><rect fill="url(#hr)" x="486" y="0.5" width="38" height="20.4"/><rect fill="url(#hp)" x="725" y="0.5" width="34" height="20.4"/><rect fill="url(#hp)" x="1252" y="0.5" width="28" height="20.4"/><rect fill="url(#hb)" x="1276" y="0.5" width="34" height="20.4"/><rect fill="url(#hg)" x="1306" y="0.5" width="30" height="20.4"/><rect fill="url(#ho)" x="1332" y="0.5" width="30" height="20.4"/><rect fill="url(#hk)" x="1358" y="0.5" width="32" height="20.4"/>
<circle class="b" cx="455.8" cy="10.7" r="5"/><text class="t" x="462.8" y="15.2">Focus+context display an...</text>
<circle class="b" cx="631.7" cy="10.7" r="5"/><text class="t" x="638.7" y="15.2">A space-o...</text>
<circle class="b" cx="719.6" cy="10.7" r="5"/><text class="t" x="726.6" y="15.2">Interactive...</text>
<circle class="b" cx="807.6" cy="10.7" r="5"/><text class="t" x="814.6" y="15.2">Steerable, Progressive Multidimensional Scaling</text>
<circle class="b" cx="1247.3" cy="10.7" r="5"/><text class="t" x="1254.3" y="15.2">Flow Mapping and Multivariate Visualization of La...</text>
</g>
<g id="row-37" transform="translate(0,792.55)">
<rect fill="url(#hb)" x="199" y="0.5" width="30" height="20.4"/><rect fill="url(#hr)" x="225" y="0.5" width="34" height="20.4"/><rect fill="url(#hr)" x="637" y="0.5" width="35" height="20.4"/><rect fill="url(#hb)" x="725" y="0.5" width="27" height="20.4"/><rect fill="url(#hr)" x="748" y="0.5" width="30" height="20.4"/><rect class="pk" x="776" y="0.5" width="21" height="20.4"/><rect fill="url(#hp)" x="812" y="0.5" width="36" height="20.4"/><rect fill="url(#hb)" x="988" y="0.5" width="30" height="20.4"/><rect fill="url(#hg)" x="1014" y="0.5" width="32" height="20.4"/><rect class="rd" x="1044" y="0.5" width="16" height="20.4"/>
<circle class="b" cx="191.9" cy="10.7" r="5"/><text class="t" x="198.9" y="15.2">H3: laying out large direct...</text>
<circle class="b" cx="367.8" cy="10.7" r="5"/><text class="t" x="374.8" y="15.2">Dynamic ...</text>
<circle class="b" cx="455.8" cy="10.7" r="5"/><text class="t" x="462.8" y="15.2">A scalable framework for ...</text>
<circle class="b" cx="631.7" cy="10.7" r="5"/><text class="t" x="638.7" y="15.2">InterRing: ...</text>
<circle class="b" cx="719.6" cy="10.7" r="5"/><text class="t" x="726.6" y="15.2">Multiscale...</text>
<circle class="b" cx="807.6" cy="10.7" r="5"/><text class="t" x="814.6" y="15.2">User Experiments with Tr...</text>
<circle class="b" cx="983.5" cy="10.7" r="5"/><text class="t" x="990.5" y="15.2">ASK-Grap...</text>
<circle class="b" cx="1071.4" cy="10.7" r="5"/><text class="t" x="1078.4" y="15.2">Visualizing Changes of Hi...</text>
<circle class="b" cx="1247.3" cy="10.7" r="5"/><text class="t" x="1254.3" y="15.2">Protovis: A Graphical Toolkit for Visualization</text>
</g>
<g id="row-38" transform="translate(0,813.85)">
<rect fill="url(#hb)" x="812" y="0.5" width="36" height="20.4"/><rect fill="url(#hb)" x="988" y="0.5" width="30" height="20.4"/><rect fill="url(#hg)" x="1014" y="0.5" width="32" height="20.4"/>
<circle class="b" cx="807.6" cy="10.7" r="5"/><text class="t" x="814.6" y="15.2">Topological Fisheye View...</text>
<circle class="b" cx="983.5" cy="10.7" r="5"/><text class="t" x="990.5" y="15.2">Visual Analysis of Multivariate State Transition Graphs</text>
</g>

<g id="legend">
<rect x="16" y="59.6" width="92" height="149.4" fill="#fff" stroke="#222" stroke-width="1.1"/>
<text class="lg" x="62" y="72.6" text-anchor="middle">CONCEPT</text>
<rect class="pk" x="17.2" y="76.8" width="89.6" height="16.5"/><text class="lg" x="21" y="89">network</text>
<rect class="gn" x="17.2" y="93.2" width="89.6" height="16.5"/><text class="lg" x="21" y="105.4">clustering</text>
<rect class="or" x="17.2" y="109.6" width="89.6" height="16.5"/><text class="lg" x="21" y="121.8">overview</text>
<rect class="bl" x="17.2" y="126" width="89.6" height="16.5"/><text class="lg" x="21" y="138.2">graph</text>
<rect class="rd" x="17.2" y="142.4" width="89.6" height="16.5"/><text class="lg" x="21" y="154.6">navigation</text>
<rect class="pu" x="17.2" y="158.8" width="89.6" height="16.5"/><text class="lg" x="21" y="171">interaction</text>
<rect class="ye" x="17.2" y="175.2" width="89.6" height="16.5"/><text class="lg" x="21" y="187.4">evaluation</text>
<rect class="te" x="17.2" y="191.6" width="89.6" height="16.3"/><text class="lg" x="21" y="203.8">hierarchy</text>
</g>

<g id="axis">
<line x1="16.7" y1="834.3" x2="1422" y2="834.3" stroke="#444" stroke-width="1"/>
<g stroke="#444" stroke-width="0.8">
<line x1="104" y1="834.3" x2="104" y2="839"/><line x1="279.9" y1="834.3" x2="279.9" y2="839"/><line x1="455.8" y1="834.3" x2="455.8" y2="839"/><line x1="631.7" y1="834.3" x2="631.7" y2="839"/><line x1="807.6" y1="834.3" x2="807.6" y2="839"/><line x1="983.5" y1="834.3" x2="983.5" y2="839"/><line x1="1159.4" y1="834.3" x2="1159.4" y2="839"/><line x1="1335.3" y1="834.3" x2="1335.3" y2="839"/>
</g>
<text class="ax" x="104" y="847.5">1996</text><text class="ax" x="279.9" y="847.5">1998</text><text class="ax" x="455.8" y="847.5">2000</text><text class="ax" x="631.7" y="847.5">2002</text><text class="ax" x="807.6" y="847.5">2004</text><text class="ax" x="983.5" y="847.5">2006</text><text class="ax" x="1159.4" y="847.5">2008</text><text class="ax" x="1335.3" y="847.5">2010</text>
</g>
</g>
</svg>
